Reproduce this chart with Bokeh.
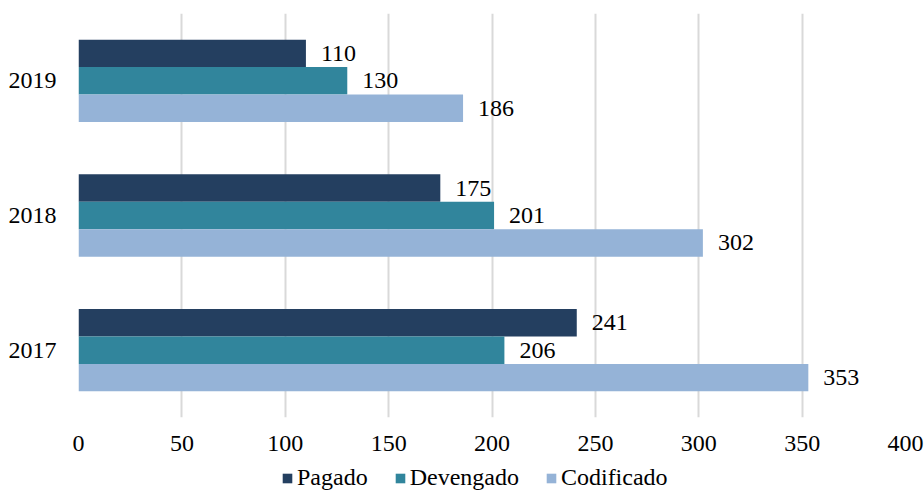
from bokeh.plotting import figure
from bokeh.layouts import column
from bokeh.models import ColumnDataSource, FactorRange, Range1d, Legend, LegendItem, FixedTicker
from bokeh.transform import dodge
from bokeh.core.properties import value
from bokeh.embed import file_html
from bokeh.resources import INLINE

years = ["2017", "2018", "2019"]
pagado = [241, 175, 110]
devengado = [206, 201, 130]
codificado = [353, 302, 186]
series_names = ["Pagado", "Devengado", "Codificado"]
colors = ["#243F60", "#31859C", "#95B3D7"]
x_ticks = [0, 50, 100, 150, 200, 250, 300, 350, 400]

FONT = "Liberation Serif"
FS = "24px"

src = ColumnDataSource(dict(years=years, pagado=pagado, devengado=devengado, codificado=codificado))

p = figure(width=924, height=455, y_range=FactorRange(*years), x_range=Range1d(0, 400),
           output_backend="svg", toolbar_location=None,
           min_border_left=78, min_border_right=19, min_border_top=13, min_border_bottom=38)

h = 0.204
offsets = [h, 0.0, -h]
keys = ["pagado", "devengado", "codificado"]
for key, name, col, off in zip(keys, series_names, colors, offsets):
    p.hbar(y=dodge("years", off, range=p.y_range), right=key, left=0, height=h,
           source=src, fill_color=col, line_color=None)
    p.text(x=key, y=dodge("years", off, range=p.y_range), text=key, source=src,
           x_offset=15, text_baseline="middle", text_align="left",
           text_font=value(FONT), text_font_size=FS, text_color="#000000")

p.xaxis.ticker = FixedTicker(ticks=x_ticks)
p.xaxis.axis_line_color = None
p.xaxis.major_tick_line_color = None
p.xaxis.minor_tick_line_color = None
p.xaxis.major_label_text_font = FONT
p.xaxis.major_label_text_font_size = FS
p.xaxis.major_label_text_color = "#000000"
p.xaxis.major_label_standoff = 12

p.yaxis.axis_line_color = None
p.yaxis.major_tick_line_color = None
p.yaxis.major_label_text_font = FONT
p.yaxis.major_label_text_font_size = FS
p.yaxis.major_label_text_color = "#000000"
p.yaxis.major_label_standoff = 16

p.xgrid.grid_line_color = "#D9D9D9"
p.xgrid.grid_line_width = 2
p.ygrid.grid_line_color = None
p.outline_line_color = None
p.background_fill_color = "white"
p.border_fill_color = "white"

# Legend strip: zero-width proxy bars (nothing visible), only the legend shows
lg = figure(width=924, height=35, x_range=Range1d(0, 400), y_range=FactorRange(*years),
            output_backend="svg", toolbar_location=None,
            min_border_left=0, min_border_right=0, min_border_top=0, min_border_bottom=0)
lg.axis.visible = False
lg.grid.visible = False
lg.outline_line_color = None
lg.border_fill_color = "white"
lg.background_fill_color = "white"
items = []
for key, name, col in zip(keys, series_names, colors):
    r = lg.hbar(y="years", right=key, left=key, height=0.0, source=src,
                fill_color=col, line_color=None)
    items.append(LegendItem(label=name, renderers=[r]))
legend = Legend(items=items, orientation="horizontal", location=(203, -1),
                label_text_font=FONT, label_text_font_size=FS, label_text_color="#000000",
                label_text_line_height=1.0,
                glyph_width=12, glyph_height=12, label_standoff=4, spacing=26,
                padding=0, margin=0, border_line_color=None, background_fill_alpha=0)
lg.add_layout(legend, "center")

layout = column(p, lg, spacing=0)
open("out.html", "w").write(file_html(layout, INLINE))
